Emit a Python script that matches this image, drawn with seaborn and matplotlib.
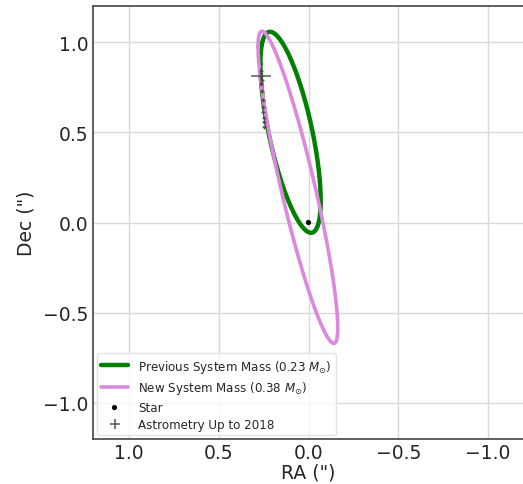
import numpy as np
import pandas as pd
import matplotlib
matplotlib.use("Agg")
import matplotlib.pyplot as plt
from matplotlib.lines import Line2D
import seaborn as sns

# ---- data ----
orbit_labels = [r"Previous System Mass (0.23 $M_{\odot}$)", r"New System Mass (0.38 $M_{\odot}$)"]
orbit_colors = ["green", "#DB88DD"]
# sky-projected ellipse: centre (RA, Dec), half-ranges in RA/Dec, RA-Dec correlation
orbit_center_ra = [0.100, 0.059]
orbit_center_dec = [0.500, 0.195]
orbit_half_ra = [0.168, 0.222]
orbit_half_dec = [0.557, 0.865]
orbit_corr = [0.68, 0.90]

star_ra = [0.0]
star_dec = [0.0]

astro_ra = [0.262, 0.263, 0.261, 0.262, 0.258, 0.255, 0.253, 0.251, 0.250, 0.249, 0.248]
astro_dec = [0.84, 0.81, 0.79, 0.77, 0.728, 0.68, 0.64, 0.61, 0.58, 0.555, 0.53]
astro_ra_err = [0.008, 0.055, 0.010, 0.008, 0.004, 0.002, 0.002, 0.002, 0.002, 0.002, 0.002]
astro_dec_err = [0.015, 0.02, 0.015, 0.01, 0.008, 0.003, 0.003, 0.003, 0.003, 0.003, 0.003]

ticks = [1.0, 0.5, 0.0, -0.5, -1.0]

# ---- build orbit tables ----
t = np.linspace(0, 2 * np.pi, 720)
frames = []
for i, lab in enumerate(orbit_labels):
    phi = np.arccos(orbit_corr[i])
    ra = orbit_center_ra[i] + orbit_half_ra[i] * np.cos(t)
    dec = orbit_center_dec[i] + orbit_half_dec[i] * np.cos(t - phi)
    frames.append(pd.DataFrame({"RA": ra, "Dec": dec, "orbit": lab}))
orbits = pd.concat(frames, ignore_index=True)

sns.set_style("white")
plt.rcParams["font.family"] = ["DejaVu Sans"]

fig = plt.figure(figsize=(5.23, 4.85), dpi=100)
ax = fig.add_axes([93 / 523, 45 / 485, 431 / 523, 433 / 485])

lws = [3.2, 2.6]
for i, lab in enumerate(orbit_labels):
    sub = orbits[orbits["orbit"] == lab]
    sns.lineplot(data=sub, x="RA", y="Dec", sort=False, estimator=None,
                 color=orbit_colors[i], lw=lws[i], label=lab, ax=ax, zorder=2 + i)

sns.scatterplot(x=star_ra, y=star_dec, color="black", s=14, edgecolor="none",
                label="Star", ax=ax, zorder=5)

ax.errorbar(astro_ra, astro_dec, xerr=astro_ra_err, yerr=astro_dec_err, fmt="+",
            color="#4a4a4a", ms=2.5, elinewidth=1.1, alpha=0.9,
            label="Astrometry Up to 2018", zorder=6)

ax.set_xlim(1.2, -1.2)
ax.set_ylim(-1.2, 1.2)
ax.set_xticks(ticks)
ax.set_yticks(ticks)
ax.grid(True, color="#d9d9d9", lw=1.0)
ax.set_axisbelow(True)
for s in ax.spines.values():
    s.set_color("#444444")
    s.set_linewidth(1.2)
ax.tick_params(labelsize=13.5, length=0, pad=3)
ax.set_xlabel('RA (")', fontsize=13.5, labelpad=0)
ax.set_ylabel('Dec (")', fontsize=13.5, labelpad=6)

handles, labels = ax.get_legend_handles_labels()
handles[-1] = Line2D([], [], ls="none", marker="+", ms=7, mew=1.1, color="#555555")
leg = ax.legend(handles, labels, loc="lower left", fontsize=8.6, frameon=True,
                handlelength=2.3, borderpad=0.35, labelspacing=0.38,
                borderaxespad=0.3)
leg.get_frame().set_edgecolor("#dddddd")

fig.savefig("out.png", dpi=100)
